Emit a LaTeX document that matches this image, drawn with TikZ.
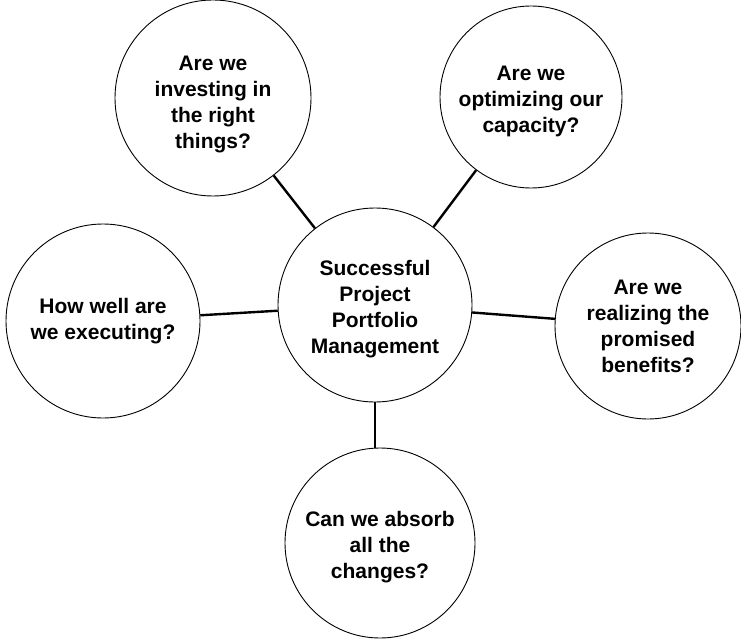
\documentclass[tikz,border=0pt]{standalone}
\usepackage{fontspec}
\setmainfont{Liberation Sans}
\newcommand{\tstrut}{\rule{0pt}{23pt}}
\begin{document}
\begin{tikzpicture}[x=1pt,y=-1pt,
  bub/.style={circle,draw=black,line width=0.9pt,align=center,inner sep=0pt,
    font=\fontsize{21}{26}\selectfont\bfseries},
  link/.style={line width=2.4pt,black}]
\useasboundingbox (0,0) rectangle (741,639);
\node[bub,minimum size=194pt] (c) at (375,305) {\tstrut Successful\\Project\\Portfolio\\Management};
\node[bub,minimum size=196pt] (tl) at (213,98) {\rule{0pt}{27pt}Are we\\investing in\\the right\\things?};
\node[bub,minimum size=182pt] (tr) at (531,97) {\tstrut Are we\\optimizing our\\capacity?};
\node[bub,minimum size=194pt] (l) at (103,321) {How well are\\we executing?};
\node[bub,minimum size=186pt] (r) at (648,326) {Are we\\realizing the\\promised\\benefits?};
\node[bub,minimum size=190pt] (b) at (380,543) {\tstrut Can we absorb\\all the\\changes?};
\draw[link] (c) -- (tl);
\draw[link] (c) -- (tr);
\draw[link] (c) -- (l);
\draw[link] (c) -- (r);
\draw[link] (c.south) -- (c.south |- b.north);
\end{tikzpicture}
\end{document}
